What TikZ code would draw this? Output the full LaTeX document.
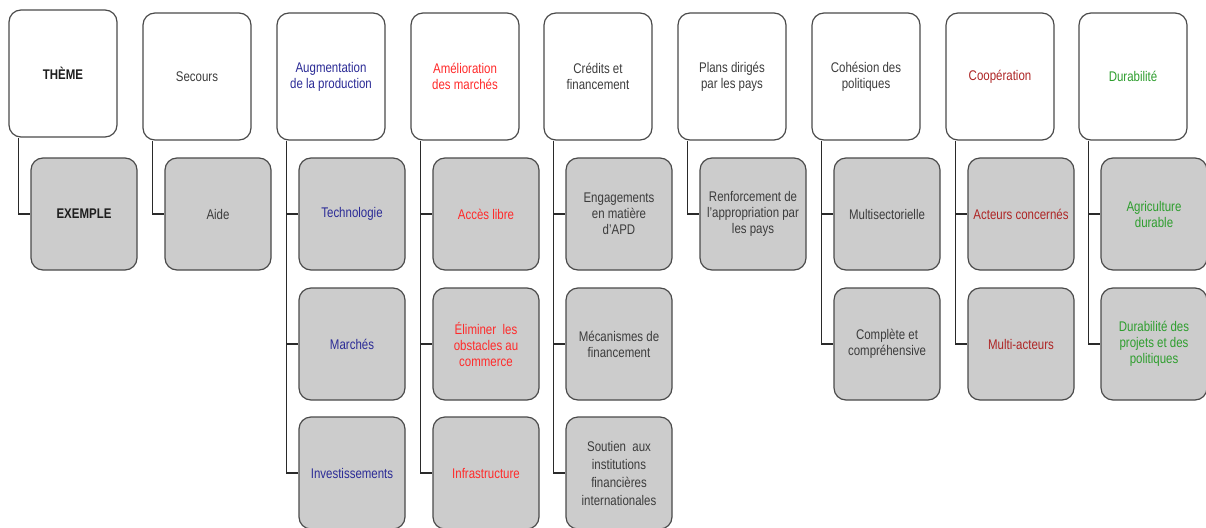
\documentclass[tikz,border=0pt]{standalone}
\usepackage{fontspec}
\setmainfont{Liberation Sans}[FakeStretch=0.82]
\begin{document}
\begin{tikzpicture}[x=1pt,y=-1pt,
  every node/.style={font=\fontsize{14}{16}\selectfont, align=center, inner sep=2pt},
  topbox/.style={draw=boxline, line width=1.2pt, rounded corners=12pt, fill=white,
    minimum width=108pt, minimum height=127pt},
  subbox/.style={draw=boxline, line width=1.2pt, rounded corners=12pt, fill=subfill,
    minimum width=106pt, minimum height=112pt},
  link/.style={draw=linkcol, line width=1.1pt},
  ink/.style={text=inkgray},
  blueink/.style={text=inkblue},
  redink/.style={text=inkred},
  brownink/.style={text=inkbrown},
  greenink/.style={text=inkgreen}]
\definecolor{boxline}{HTML}{4A4A4A}
\definecolor{subfill}{HTML}{CCCCCC}
\definecolor{linkcol}{HTML}{2A2A2A}
\definecolor{inkgray}{HTML}{3C3C3C}
\definecolor{inkdark}{HTML}{1E1E1E}
\definecolor{inkblue}{HTML}{2B2B96}
\definecolor{inkred}{HTML}{FF2A2A}
\definecolor{inkbrown}{HTML}{AE2525}
\definecolor{inkgreen}{HTML}{2E9E2E}
\useasboundingbox[fill=white] (0,0) rectangle (1206,527);
\clip (0,0) rectangle (1206,527);

% column headers (top row)
\node[topbox, text=inkdark, font=\fontsize{14}{16}\selectfont\bfseries] (t1) at (63,73.5) {THÈME};
\node[topbox, ink]      (t2) at (197,76.5) {Secours};
\node[topbox, blueink]  (t3) at (331,76.5) {Augmentation\\de la production};
\node[topbox, redink]   (t4) at (465,76.5) {Amélioration\\des marchés};
\node[topbox, ink]      (t5) at (598,76.5) {Crédits et\\financement};
\node[topbox, ink]      (t6) at (732,76.5) {Plans dirigés\\par les pays};
\node[topbox, ink]      (t7) at (866,76.5) {Cohésion des\\politiques};
\node[topbox, brownink] (t8) at (1000,76.5) {Coopération};
\node[topbox, greenink] (t9) at (1133,76.5) {Durabilité};

% sub-items
\node[subbox, text=inkdark, font=\fontsize{14}{16}\selectfont\bfseries] (c1a) at (84,214) {EXEMPLE};
\node[subbox, ink] (c2a) at (218,214) {Aide};

\node[subbox, blueink] (c3a) at (352,214) {Technologie};
\node[subbox, blueink] (c3b) at (352,344) {Marchés};
\node[subbox, blueink] (c3c) at (352,473) {Investissements};

\node[subbox, redink] (c4a) at (486,214) {Accès libre};
\node[subbox, redink] (c4b) at (486,344) {Éliminer\ \ les\\obstacles au\\commerce};
\node[subbox, redink] (c4c) at (486,473) {Infrastructure};

\node[subbox, ink] (c5a) at (619,214) {Engagements\\en matière\\d'APD};
\node[subbox, ink] (c5b) at (619,344) {Mécanismes de\\financement};
\node[subbox, ink, font=\fontsize{14}{18}\selectfont] (c5c) at (619,473) {Soutien\ \ aux\\institutions\\financières\\internationales};

\node[subbox, ink] (c6a) at (753,214) {Renforcement de\\l'appropriation par\\les pays};

\node[subbox, ink] (c7a) at (887,214) {Multisectorielle};
\node[subbox, ink] (c7b) at (887,344) {Complète et\\compréhensive};

\node[subbox, brownink] (c8a) at (1021,214) {Acteurs concernés};
\node[subbox, brownink] (c8b) at (1021,344) {Multi-acteurs};

\node[subbox, greenink] (c9a) at (1154,214) {Agriculture\\durable};
\node[subbox, greenink] (c9b) at (1154,344) {Durabilité des\\projets et des\\politiques};

% connectors: from each header down the left side to its items
\foreach \p/\c in {t1/c1a, t2/c2a, t3/c3a, t3/c3b, t3/c3c, t4/c4a, t4/c4b, t4/c4c,
                   t5/c5a, t5/c5b, t5/c5c, t6/c6a, t7/c7a, t7/c7b,
                   t8/c8a, t8/c8b, t9/c9a, t9/c9b}
  \draw[link] ([xshift=10pt]\p.south west) |- (\c.west);
\end{tikzpicture}
\end{document}
